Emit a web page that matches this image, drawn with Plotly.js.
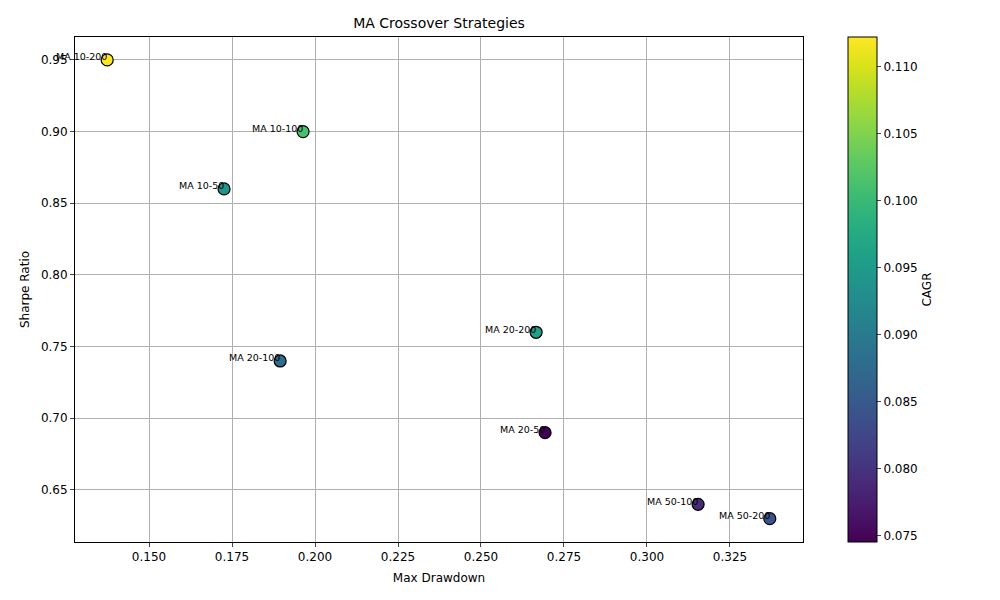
<!DOCTYPE html>
<html><head><script src="https://cdn.plot.ly/plotly-3.0.1.min.js"></script></head>
<body style="margin:0"><div id="c" style="width:1000px;height:600px"></div>
<script>
const labels=["MA 10-200","MA 10-100","MA 10-50","MA 20-100","MA 20-200","MA 20-50","MA 50-100","MA 50-200"];
const maxDD=[0.1374,0.1964,0.1726,0.1895,0.2666,0.2693,0.3154,0.3370];
const sharpe=[0.95,0.90,0.86,0.74,0.76,0.69,0.64,0.63];
const cagr=[0.1122,0.1012,0.0940,0.0878,0.0960,0.0745,0.0790,0.0840];
const ann=labels.map((t,i)=>({x:maxDD[i],y:sharpe[i],text:t,showarrow:false,xanchor:'right',yanchor:'middle',yshift:3,xshift:2,font:{size:9.5,color:'black',family:'DejaVu Sans'}}));
const ax={showline:true,mirror:true,linecolor:'black',linewidth:1,ticks:'outside',ticklen:4,gridcolor:'#b0b0b0',zeroline:false,tickfont:{size:12}};
Plotly.newPlot('c',[{x:maxDD,y:sharpe,mode:'markers',type:'scatter',
marker:{size:12,color:cagr,colorscale:'Viridis',line:{color:'black',width:1.2},
colorbar:{x:1.062,xanchor:'left',xpad:0,ypad:0,y:0,yanchor:'bottom',len:1,thickness:29,outlinecolor:'black',outlinewidth:1,ticks:'outside',ticklen:4,
tickvals:[0.075,0.08,0.085,0.09,0.095,0.1,0.105,0.11],tickformat:'.3f',
title:{text:'CAGR',side:'right',font:{size:12}}}}}],
{width:1000,height:600,margin:{l:75,r:197,t:37,b:58},plot_bgcolor:'white',paper_bgcolor:'white',
font:{family:'DejaVu Sans',color:'black'},
title:{text:'MA Crossover Strategies',x:0.439,xanchor:'center',y:0.962,yanchor:'middle',font:{size:14}},
xaxis:Object.assign({},ax,{range:[0.1277,0.347],dtick:0.025,tickformat:'.3f',title:{text:'Max Drawdown',font:{size:12},standoff:10}}),
yaxis:Object.assign({},ax,{range:[0.6137,0.966],dtick:0.05,tickformat:'.2f',title:{text:'Sharpe Ratio',font:{size:12},standoff:8}}),
annotations:ann,showlegend:false},{displayModeBar:false});
</script></body></html>
